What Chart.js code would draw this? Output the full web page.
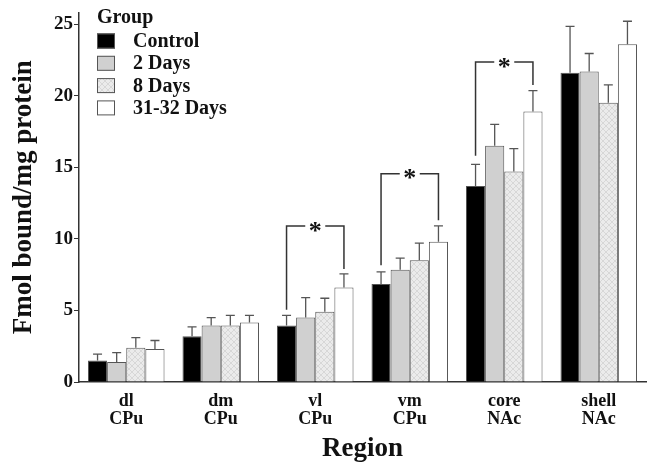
<!DOCTYPE html>
<html>
<head>
<meta charset="UTF-8">
<script src="https://cdn.jsdelivr.net/npm/chart.js"></script>
<style>
  body { margin: 0; background: #fff; }
  #wrap { width: 647px; height: 463px; }
</style>
</head>
<body>
<div id="wrap"><canvas id="c" width="647" height="463"></canvas></div>
<script>
// regions (two-line labels)
const regions = [["dl", "CPu"], ["dm", "CPu"], ["vl", "CPu"], ["vm", "CPu"], ["core", "NAc"], ["shell", "NAc"]];
const groups = ["Control", "2 Days", "8 Days", "31-32 Days"];

// mean values per group
const control = [1.5, 3.2, 3.95, 6.85, 13.7, 21.6];
const days2   = [1.4, 3.95, 4.5, 7.85, 16.5, 21.7];
const days8   = [2.4, 3.95, 4.9, 8.5, 14.7, 19.5];
const days31  = [2.3, 4.15, 6.6, 9.8, 18.9, 23.6];

// SEM (upper error bars)
const errControl = [0.45, 0.65, 0.7, 0.85, 1.5, 3.25];
const errDays2   = [0.65, 0.55, 1.4, 0.8, 1.5, 1.25];
const errDays8   = [0.7, 0.7, 0.95, 1.2, 1.6, 1.25];
const errDays31  = [0.6, 0.5, 0.95, 1.1, 1.45, 1.6];

// significance brackets: region index, bracket level, left/right leg ends
const sigRegion = [2, 3, 4];
const sigTop    = [10.9, 14.55, 22.35];
const sigLeft   = [5.05, 8.15, 15.8];
const sigRight  = [7.9, 11.3, 20.75];

const serif = "'Liberation Serif', 'Times New Roman', serif";

function hatch() {
  const p = document.createElement("canvas");
  p.width = 6; p.height = 6;
  const g = p.getContext("2d");
  g.fillStyle = "#ebebeb";
  g.fillRect(0, 0, 6, 6);
  g.strokeStyle = "#d2d2d2";
  g.lineWidth = 0.8;
  g.beginPath();
  g.moveTo(0, 0); g.lineTo(6, 6);
  g.moveTo(6, 0); g.lineTo(0, 6);
  g.stroke();
  return g.createPattern(p, "repeat");
}

const fills = ["#000000", "#d0d0d0", hatch(), "#ffffff"];
const values = [control, days2, days8, days31];
const errors = [errControl, errDays2, errDays8, errDays31];

const errorBars = {
  id: "errorBars",
  afterDatasetsDraw(chart) {
    const ctx = chart.ctx, y = chart.scales.y;
    ctx.save();
    ctx.strokeStyle = "#555";
    ctx.lineWidth = 1.3;
    chart.data.datasets.forEach((ds, i) => {
      chart.getDatasetMeta(i).data.forEach((bar, j) => {
        const top = y.getPixelForValue(ds.data[j] + errors[i][j]);
        ctx.beginPath();
        ctx.moveTo(bar.x, bar.y);
        ctx.lineTo(bar.x, top);
        ctx.moveTo(bar.x - 4.5, top);
        ctx.lineTo(bar.x + 4.5, top);
        ctx.stroke();
      });
    });
    ctx.restore();
  }
};

const brackets = {
  id: "brackets",
  afterDatasetsDraw(chart) {
    const ctx = chart.ctx, y = chart.scales.y;
    const m0 = chart.getDatasetMeta(0), m3 = chart.getDatasetMeta(3);
    ctx.save();
    ctx.strokeStyle = "#333";
    ctx.lineWidth = 1.5;
    sigRegion.forEach((r, k) => {
      const xl = m0.data[r].x, xr = m3.data[r].x;
      const yt = y.getPixelForValue(sigTop[k]);
      const xm = (xl + xr) / 2;
      ctx.beginPath();
      ctx.moveTo(xl, y.getPixelForValue(sigLeft[k]));
      ctx.lineTo(xl, yt);
      ctx.lineTo(xm - 10, yt);
      ctx.moveTo(xm + 10, yt);
      ctx.lineTo(xr, yt);
      ctx.lineTo(xr, y.getPixelForValue(sigRight[k]));
      ctx.stroke();
      ctx.fillStyle = "#111";
      ctx.font = "bold 26px " + serif;
      ctx.textAlign = "center";
      ctx.textBaseline = "middle";
      ctx.fillText("*", xm, yt + 6);
    });
    ctx.restore();
  }
};

const legendBox = {
  id: "legendBox",
  afterDraw(chart) {
    const ctx = chart.ctx;
    const x0 = 97, y0 = 18;
    ctx.save();
    ctx.fillStyle = "#111";
    ctx.font = "bold 20px " + serif;
    ctx.textBaseline = "middle";
    ctx.fillText("Group", x0, y0);
    chart.data.datasets.forEach((ds, i) => {
      const yy = y0 + 23 + i * 22.3;
      ctx.fillStyle = ds.backgroundColor;
      ctx.fillRect(x0, yy - 7.5, 18, 15);
      ctx.strokeStyle = "#555";
      ctx.lineWidth = 1;
      ctx.strokeRect(x0 + 0.5, yy - 7, 17, 14);
      ctx.fillStyle = "#111";
      ctx.font = "bold 20px " + serif;
      ctx.fillText(ds.label, x0 + 36, yy + 1);
    });
    ctx.restore();
  }
};

new Chart(document.getElementById("c"), {
  type: "bar",
  data: {
    labels: regions,
    datasets: groups.map((g, i) => ({
      label: g,
      data: values[i],
      backgroundColor: fills[i],
      borderColor: "#555",
      borderWidth: 1,
      barPercentage: 1,
      categoryPercentage: 0.81
    }))
  },
  options: {
    responsive: false,
    animation: false,
    layout: { padding: { top: 5, right: 1, left: 4, bottom: 0 } },
    plugins: { legend: { display: false }, tooltip: { enabled: false } },
    scales: {
      x: {
        grid: { display: false, drawTicks: false },
        border: { color: "#333", width: 1.5 },
        ticks: { color: "#111", font: { family: serif, size: 18, weight: "bold", lineHeight: 1 }, padding: 10, maxRotation: 0 },
        title: { display: true, text: "Region", color: "#111", font: { family: serif, size: 27, weight: "bold", lineHeight: 1 }, padding: { top: 0, bottom: 0 } },
        afterFit(s) { s.height = 81; }
      },
      y: {
        min: 0,
        max: 25.82,
        grid: { display: true, drawOnChartArea: false, tickLength: 5, color: "#333" },
        border: { color: "#333", width: 1.5 },
        ticks: { stepSize: 5, color: "#111", font: { family: serif, size: 19, weight: "bold" }, padding: 1 },
        afterBuildTicks(s) { s.ticks = [0, 5, 10, 15, 20, 25].map(v => ({ value: v })); },
        title: { display: true, text: "Fmol bound/mg protein", color: "#111", font: { family: serif, size: 27, weight: "bold" }, padding: { bottom: 2 } },
        afterFit(s) { s.width = 75; }
      }
    }
  },
  plugins: [errorBars, brackets, legendBox]
});
</script>
</body>
</html>
